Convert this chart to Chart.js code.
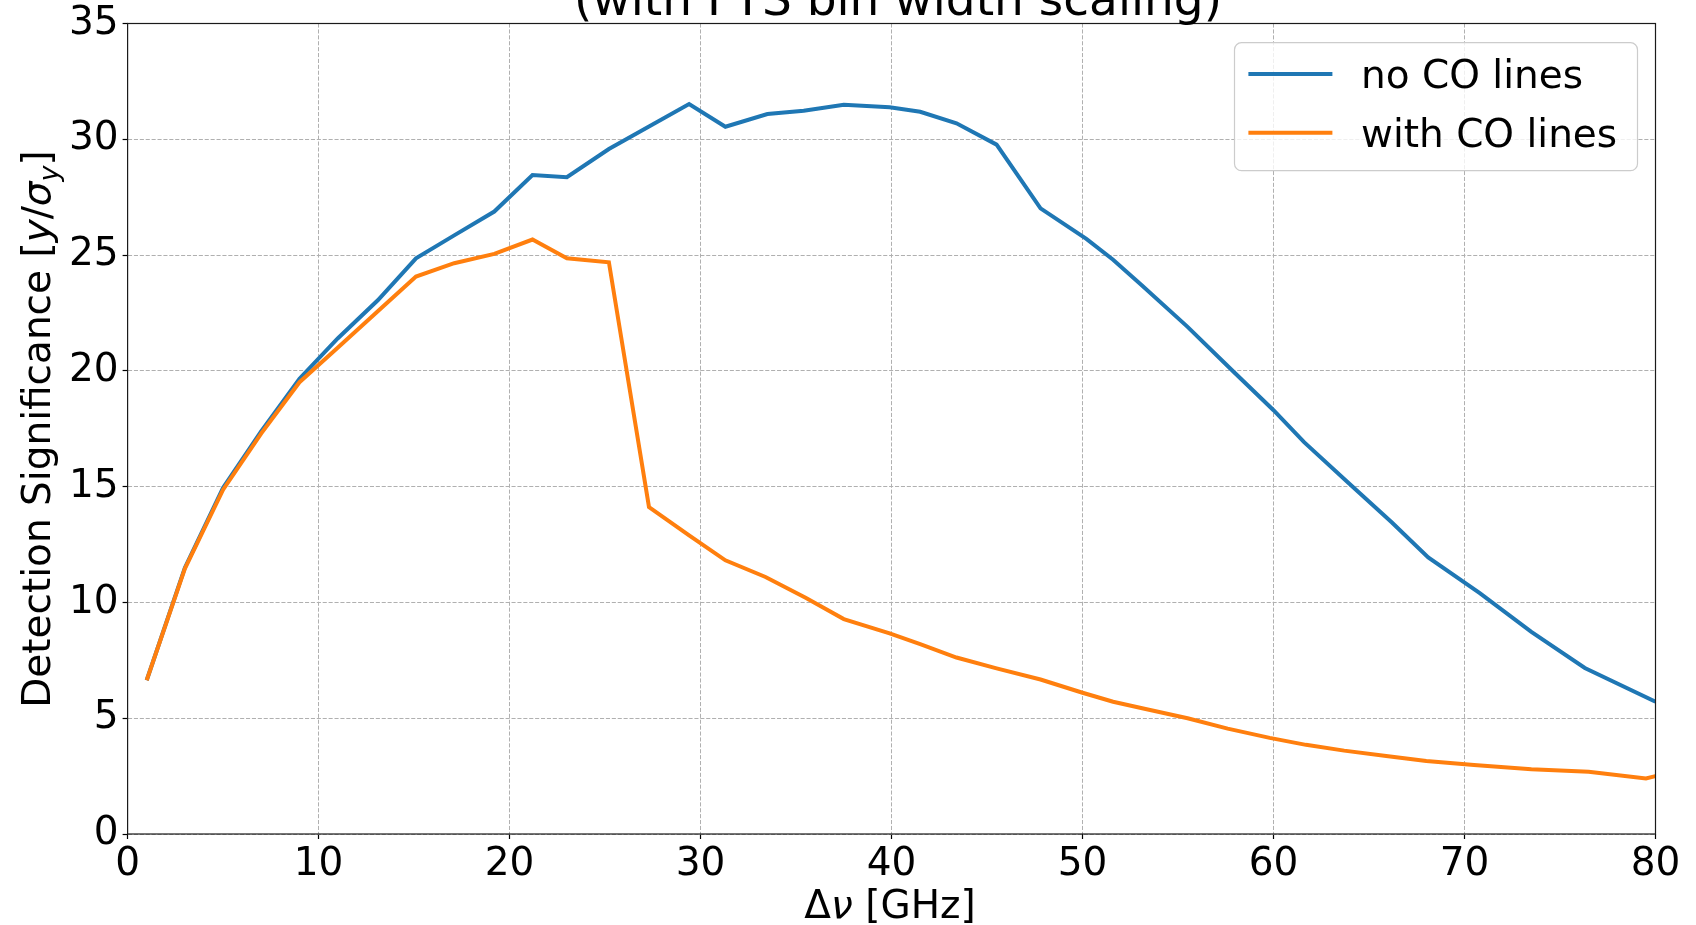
<!DOCTYPE html>
<html>
<head>
<meta charset="utf-8">
<script src="https://cdn.jsdelivr.net/npm/chart.js@4.4.1/dist/chart.umd.min.js"></script>
<style>
  html, body { margin: 0; padding: 0; background: #fff; }
  #wrap { width: 1696px; height: 925px; }
</style>
</head>
<body>
<div id="wrap"><canvas id="chart" width="1696" height="925"></canvas></div>
<script>
// data
const noCoFreq = [1.0, 3.0, 5.0, 7.0, 9.0, 11.0, 13.1, 15.1, 17.1, 19.2, 21.2, 23.0, 25.2, 27.3, 29.4,
  31.3, 33.5, 35.4, 37.5, 39.9, 41.5, 43.4, 45.5, 47.8, 50.2, 51.6, 53.1, 55.5, 57.8, 60.0,
  61.6, 64.0, 66.2, 68.1, 70.8, 73.5, 76.3, 80.0];
const noCoSig = [6.64, 11.5, 14.95, 17.4, 19.66, 21.4, 23.05, 24.86, 25.85, 26.88, 28.46, 28.36, 29.58, 30.55, 31.52,
  30.54, 31.09, 31.23, 31.49, 31.38, 31.19, 30.69, 29.77, 27.02, 25.7, 24.8, 23.7, 21.9, 20.05, 18.3,
  16.92, 15.1, 13.45, 11.94, 10.4, 8.73, 7.17, 5.71];

const withCoFreq = [1.0, 3.0, 5.0, 7.0, 9.0, 11.0, 13.0, 15.1, 17.1, 19.2, 21.2, 23.0, 25.2, 27.3, 29.4,
  31.3, 33.4, 35.5, 37.5, 39.9, 41.5, 43.4, 45.5, 47.8, 50.0, 51.6, 53.3, 55.5, 57.6, 59.8,
  61.7, 63.7, 65.9, 68.0, 70.5, 73.5, 76.5, 79.5, 80.0];
const withCoSig = [6.64, 11.46, 14.87, 17.3, 19.51, 21.0, 22.5, 24.07, 24.65, 25.05, 25.67, 24.86, 24.69, 14.12, 12.9,
  11.82, 11.1, 10.2, 9.28, 8.66, 8.2, 7.62, 7.15, 6.67, 6.1, 5.71, 5.4, 5.0, 4.55, 4.15,
  3.85, 3.6, 3.37, 3.15, 2.98, 2.8, 2.69, 2.40, 2.5];

const xTickValues = [0, 10, 20, 30, 40, 50, 60, 70, 80];
const yTickValues = [0, 5, 10, 15, 20, 25, 30, 35];

const seriesNames = ["no CO lines", "with CO lines"];
const titleText = "(with FTS bin width scaling)";

const FONT = '"DejaVu Sans"';
const BLUE = "#1f77b4";
const ORANGE = "#ff7f0e";

function toPoints(xs, ys) {
  return xs.map((x, i) => ({ x: x, y: ys[i] }));
}

// draw a run of [text, font, dy] pieces starting at x along baseline 0
function drawPieces(ctx, pieces, startX) {
  let x = startX;
  pieces.forEach(p => {
    ctx.font = p[1];
    ctx.fillText(p[0], x, p[2] || 0);
    x += ctx.measureText(p[0]).width;
  });
}
function piecesWidth(ctx, pieces) {
  let w = 0;
  pieces.forEach(p => { ctx.font = p[1]; w += ctx.measureText(p[0]).width; });
  return w;
}

const decor = {
  id: "decor",
  afterDraw(chart) {
    const ctx = chart.ctx;
    const a = chart.chartArea;
    ctx.save();

    // spines
    ctx.strokeStyle = "#1a1a1a";
    ctx.lineWidth = 1.2;
    ctx.strokeRect(a.left, a.top, a.right - a.left, a.bottom - a.top);

    ctx.fillStyle = "#000";
    ctx.textBaseline = "alphabetic";

    // title (only its last line shows in the frame)
    ctx.font = "47px " + FONT;
    ctx.textAlign = "center";
    ctx.fillText(titleText, 898, 14.5);

    // x label  Δν [GHz]
    ctx.textAlign = "left";
    const reg = "39px " + FONT;
    const ita = "italic 39px " + FONT;
    const sub = "italic 27px " + FONT;
    const xl = [["Δ", reg], ["ν", ita], [" [GHz]", reg]];
    ctx.save();
    ctx.translate(0, 918);
    drawPieces(ctx, xl, 890 - piecesWidth(ctx, xl) / 2);
    ctx.restore();

    // y label  Detection Significance [y/σ_y]
    const yl = [["Detection Significance [", reg], ["y", ita], ["/", reg], ["σ", ita], ["y", sub, 8], ["]", reg]];
    ctx.save();
    ctx.translate(50, 429);
    ctx.rotate(-Math.PI / 2);
    drawPieces(ctx, yl, -piecesWidth(ctx, yl) / 2);
    ctx.restore();

    // legend
    const bx = 1234.5, by = 42.7, bw = 403, bh = 128;
    ctx.beginPath();
    ctx.roundRect(bx, by, bw, bh, 7);
    ctx.fillStyle = "rgba(255,255,255,0.8)";
    ctx.fill();
    ctx.strokeStyle = "#cccccc";
    ctx.lineWidth = 1.2;
    ctx.stroke();

    const rows = [74, 132.7];
    chart.data.datasets.forEach((ds, i) => {
      ctx.strokeStyle = ds.borderColor;
      ctx.lineWidth = ds.borderWidth;
      ctx.beginPath();
      ctx.moveTo(1248.4, rows[i]);
      ctx.lineTo(1332.4, rows[i]);
      ctx.stroke();
      ctx.fillStyle = "#000";
      ctx.font = reg;
      ctx.fillText(ds.label, 1361, rows[i] + 14.3);
    });

    ctx.restore();
  }
};

const tickFont = { family: FONT, size: 39, lineHeight: 1 };

new Chart(document.getElementById("chart"), {
  type: "line",
  data: {
    datasets: [
      {
        label: seriesNames[0],
        data: toPoints(noCoFreq, noCoSig),
        borderColor: BLUE,
        backgroundColor: BLUE,
        borderWidth: 4,
        pointRadius: 0,
        tension: 0,
        clip: 0,
        order: 1
      },
      {
        label: seriesNames[1],
        data: toPoints(withCoFreq, withCoSig),
        borderColor: ORANGE,
        backgroundColor: ORANGE,
        borderWidth: 4,
        pointRadius: 0,
        tension: 0,
        clip: 0,
        order: 0
      }
    ]
  },
  options: {
    responsive: false,
    animation: false,
    devicePixelRatio: 1,
    layout: { padding: { left: 0, top: 22.7, right: 40.5, bottom: 0 } },
    plugins: {
      legend: { display: false },
      title: { display: false },
      tooltip: { enabled: false }
    },
    scales: {
      x: {
        type: "linear",
        min: 0,
        max: 80,
        afterBuildTicks: s => { s.ticks = xTickValues.map(v => ({ value: v })); },
        afterFit: s => { s.height = 91; },
        ticks: { font: tickFont, color: "#000", padding: 6, maxRotation: 0, autoSkip: false },
        grid: {
          color: "#b0b0b0", lineWidth: 1,
          tickLength: 5, tickColor: "#000", tickWidth: 1.2, tickBorderDash: []
        },
        border: { display: false, dash: [4.1, 1.8] }
      },
      y: {
        type: "linear",
        min: 0,
        max: 35,
        afterBuildTicks: s => { s.ticks = yTickValues.map(v => ({ value: v })); },
        afterFit: s => { s.width = 127.6; },
        ticks: { font: tickFont, color: "#000", padding: 4, autoSkip: false },
        grid: {
          color: "#b0b0b0", lineWidth: 1,
          tickLength: 5, tickColor: "#000", tickWidth: 1.2, tickBorderDash: []
        },
        border: { display: false, dash: [4.1, 1.8] }
      }
    }
  },
  plugins: [decor]
});
</script>
</body>
</html>
